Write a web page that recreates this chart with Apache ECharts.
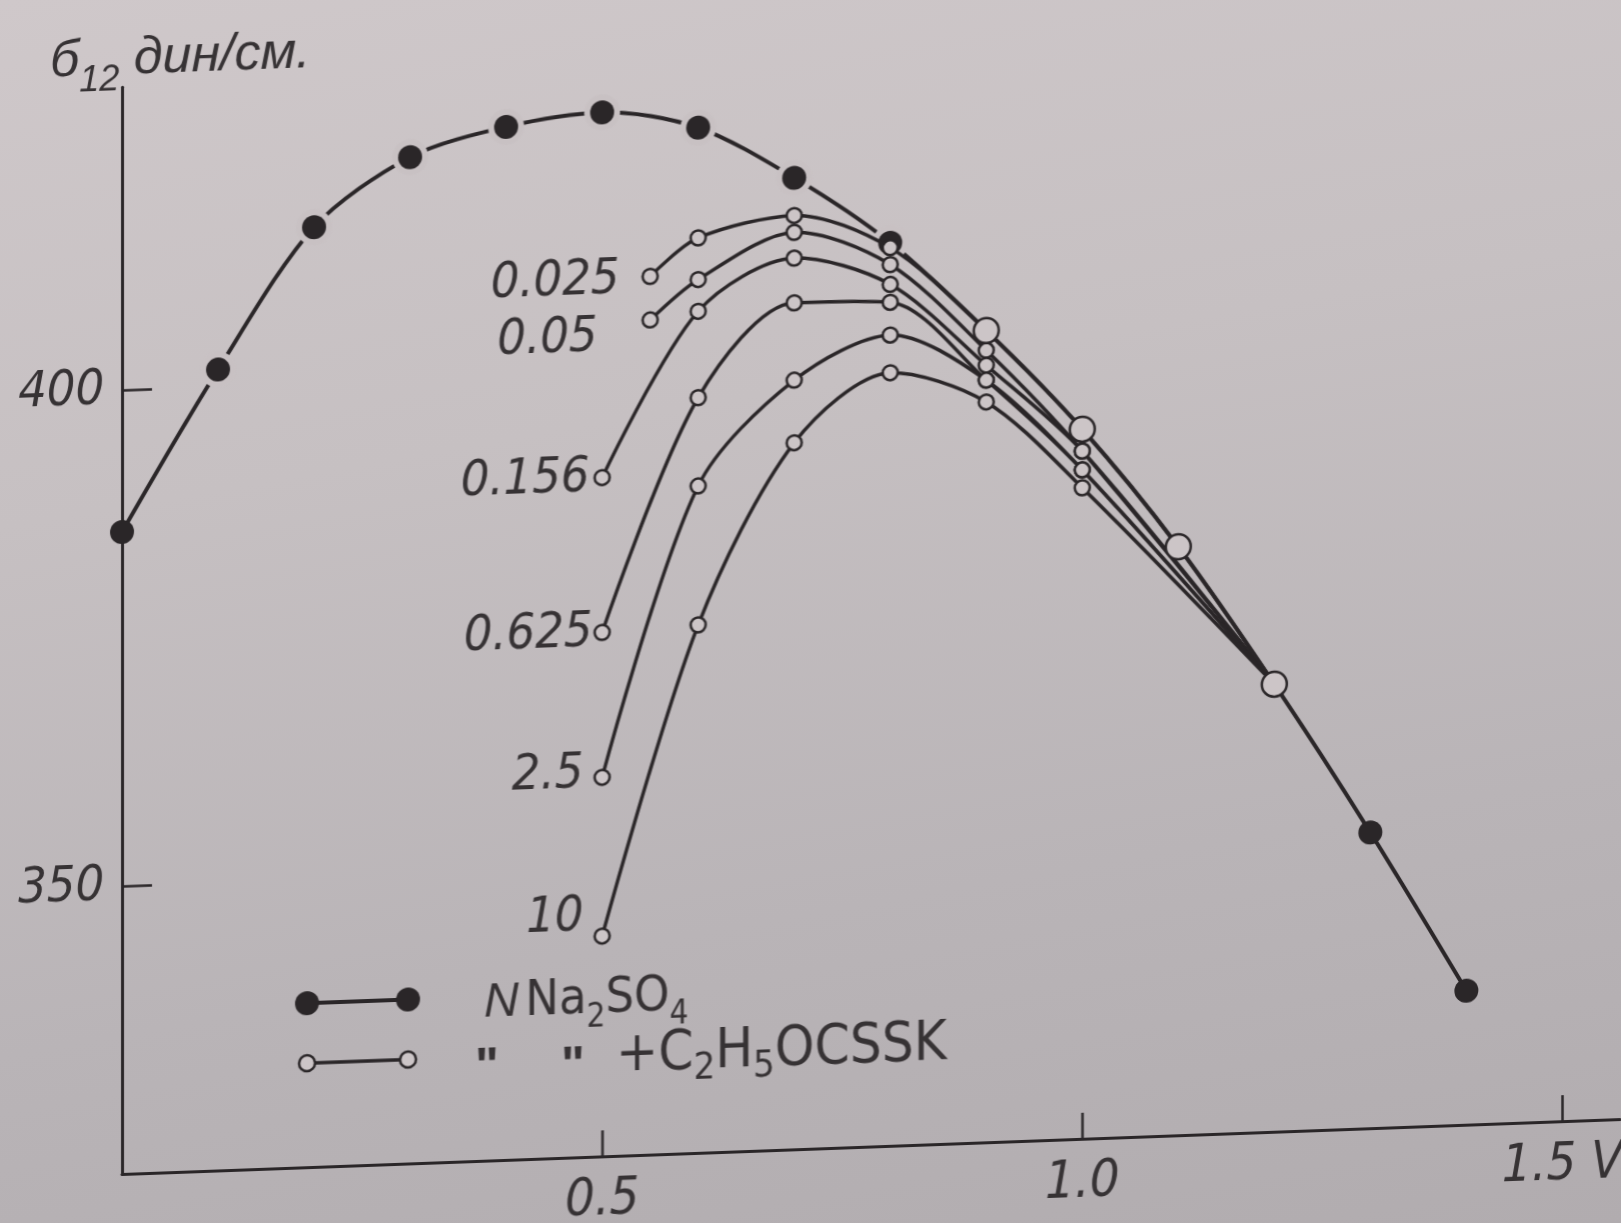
<!DOCTYPE html>
<html>
<head>
<meta charset="utf-8">
<title>Interfacial tension vs potential</title>
<script src="https://cdn.jsdelivr.net/npm/echarts@6/dist/echarts.min.js"></script>
<style>
  html, body {
    margin: 0; padding: 0; width: 1621px; height: 1223px; overflow: hidden;
    background: linear-gradient(170deg, #cfc8ca 0%, #c6c0c2 35%, #b9b4b7 70%, #b1acaf 100%);
  }
  /* the printed figure sits slightly sheared on the page; the canvas is a bit
     larger than the page so that sheared tick labels are not cut off */
  #chart {
    width: 1700px; height: 1300px;
    transform: skewY(-2.1deg); transform-origin: 122px 1174px;
  }
</style>
</head>
<body>
<div id="chart"></div>
<script>
// Potential, V
const voltageNa   = [0, 0.1, 0.2, 0.3, 0.4, 0.5, 0.6, 0.7, 0.8, 0.9, 1.0, 1.1, 1.2, 1.3, 1.4];
// Interfacial tension in N Na2SO4, dyn/cm
const sigmaNa     = [385.7, 401.7, 415.7, 422.4, 425.1, 426.2, 424.3, 418.9, 412.0, 402.8, 392.5, 380.3, 366.1, 350.8, 334.5];

// Same electrolyte + C2H5OCSSK, one curve per concentration
const voltage0025 = [0.55, 0.6, 0.7, 0.8, 0.9, 1.0, 1.1, 1.2];
const sigma0025   = [409.5, 413.2, 415.1, 411.5, 402.8, 392.5, 380.3, 366.1];
const voltage005  = [0.55, 0.6, 0.7, 0.8, 0.9, 1.0, 1.2];
const sigma005    = [405.1, 409.0, 413.4, 409.8, 400.8, 390.3, 366.1];
const voltageHigh = [0.5, 0.6, 0.7, 0.8, 0.9, 1.0, 1.2];
const sigma0156   = [389.4, 405.8, 410.8, 407.8, 399.3, 390.3, 366.1];
const sigma0625   = [373.8, 397.1, 406.3, 406.0, 397.8, 388.4, 366.1];
const sigma25     = [359.2, 388.2, 398.5, 402.7, 397.8, 388.4, 366.1];
const sigma10     = [343.2, 374.2, 392.2, 398.9, 395.6, 386.6, 366.1];

const concLabels  = ['0.025', '0.05', '0.156', '0.625', '2.5', '10'];
const xTicks      = [0.5, 1.0, 1.5];
const yTicks      = [350, 400];

const INK = '#2a2628';
const TEXT = '#363234';
const PAPER = '#ccc5c7';
const HALO = '#c8c1c3';
const NARROW = "'Liberation Sans Narrow','DejaVu Sans Condensed','Liberation Sans',sans-serif";
const SANS = "'Liberation Sans','DejaVu Sans',sans-serif";

const pairs = (xs, ys) => xs.map((x, i) => [x, ys[i]]);
// rising branch of the base curve, off the axis and before the additive curves join it
const rising = v => v[0] > 0 && v[0] < 0.85;

const curves = [
  { x: voltage0025, y: sigma0025, dist: 22, off: [0, 2] },
  { x: voltage005,  y: sigma005,  dist: 44, off: [0, 16] },
  { x: voltageHigh, y: sigma0156, dist: 4,  off: [0, 0] },
  { x: voltageHigh, y: sigma0625, dist: 1,  off: [0, 0] },
  { x: voltageHigh, y: sigma25,   dist: 10, off: [0, -4] },
  { x: voltageHigh, y: sigma10,   dist: 10, off: [0, -20] }
];

const naData = pairs(voltageNa, sigmaNa);

const series = [
  // base electrolyte: the curve itself
  {
    type: 'line', data: naData, smooth: 0.3, showSymbol: false,
    lineStyle: { color: INK, width: 4 }, z: 2
  },
  // clear ring around each point so the pen line stops short of the dot
  {
    type: 'scatter', data: naData, symbol: 'circle',
    symbolSize: v => (rising(v) ? 36 : 0),
    itemStyle: { color: HALO, opacity: 1 }, silent: true, z: 2.2
  },
  // base electrolyte: measured points
  {
    type: 'scatter', data: naData, symbol: 'circle', symbolSize: 24,
    itemStyle: { color: INK, opacity: 1 }, z: 2.4
  }
];

curves.forEach((c, k) => {
  series.push({
    type: 'line',
    data: pairs(c.x, c.y),
    smooth: 0.3,
    symbol: 'circle',
    // where the lowest concentration merges with the base curve the points are drawn large
    symbolSize: k === 0 ? (v => (v[0] >= 0.9 ? 25 : 15)) : 15,
    itemStyle: { color: PAPER, borderColor: INK, borderWidth: 2.5 },
    lineStyle: { color: INK, width: 3.5 },
    label: {
      show: true,
      position: 'left',
      distance: c.dist,
      offset: c.off,
      formatter: p => (p.dataIndex === 0 ? concLabels[k] : ''),
      fontFamily: NARROW,
      fontStyle: 'italic',
      fontSize: 50,
      color: TEXT
    },
    z: k === 0 ? 4 : 3
  });
});

const chart = echarts.init(document.getElementById('chart'), null, { renderer: 'canvas' });

chart.setOption({
  animation: false,
  backgroundColor: 'transparent',
  grid: { left: 122, right: 80, top: 87.3, bottom: 126, outerBoundsMode: 'none', containLabel: false },
  xAxis: {
    type: 'value',
    min: 0,
    max: 1.56,
    axisLine: { show: true, lineStyle: { color: INK, width: 3 } },
    axisTick: { show: true, inside: true, length: 26, customValues: xTicks, lineStyle: { color: INK, width: 2.5 } },
    axisLabel: {
      customValues: xTicks,
      formatter: v => (v === 1.5 ? '1.5 V' : v.toFixed(1)),
      fontFamily: NARROW, fontStyle: 'italic', fontSize: 52, color: TEXT, margin: 18
    },
    splitLine: { show: false }
  },
  yAxis: {
    type: 'value',
    min: 321,
    max: 430.5,
    axisLine: { show: true, lineStyle: { color: INK, width: 3 } },
    axisTick: { show: true, inside: true, length: 30, customValues: yTicks, lineStyle: { color: INK, width: 2.5 } },
    axisLabel: {
      customValues: yTicks,
      fontFamily: NARROW, fontStyle: 'italic', fontSize: 50, color: TEXT, margin: 18
    },
    splitLine: { show: false }
  },
  graphic: [
    // axis title: σ12 dyn/cm
    {
      type: 'text', x: 50, y: 60,
      style: {
        text: '{m|б}{s|12}{m| дин/см.}',
        verticalAlign: 'middle',
        rich: {
          m: { fontFamily: SANS, fontStyle: 'italic', fontSize: 52, lineHeight: 76, verticalAlign: 'middle', fill: TEXT },
          s: { fontFamily: SANS, fontStyle: 'italic', fontSize: 36, lineHeight: 32, verticalAlign: 'bottom', fill: TEXT }
        }
      }
    },
    // key: filled points
    { type: 'line', shape: { x1: 307, y1: 1010, x2: 408, y2: 1010 }, style: { stroke: INK, lineWidth: 4 } },
    { type: 'circle', shape: { cx: 307, cy: 1010, r: 12 }, style: { fill: INK } },
    { type: 'circle', shape: { cx: 408, cy: 1010, r: 12 }, style: { fill: INK } },
    {
      type: 'text', x: 484, y: 1017,
      style: {
        text: '{i|N}  {m|Na}{s|2}{m|SO}{s|4}',
        verticalAlign: 'middle',
        rich: {
          i: { fontFamily: SANS, fontStyle: 'italic', fontSize: 48, lineHeight: 70, verticalAlign: 'middle', fill: TEXT },
          m: { fontFamily: NARROW, fontSize: 50, lineHeight: 70, verticalAlign: 'middle', fill: TEXT },
          s: { fontFamily: NARROW, fontSize: 33, lineHeight: 30, verticalAlign: 'bottom', fill: TEXT }
        }
      }
    },
    // key: open points
    { type: 'line', shape: { x1: 307, y1: 1070, x2: 408, y2: 1070 }, style: { stroke: INK, lineWidth: 3.5 } },
    { type: 'circle', shape: { cx: 307, cy: 1070, r: 8 }, style: { fill: PAPER, stroke: INK, lineWidth: 2.5 } },
    { type: 'circle', shape: { cx: 408, cy: 1070, r: 8 }, style: { fill: PAPER, stroke: INK, lineWidth: 2.5 } },
    { type: 'text', x: 475, y: 1057, style: { text: '"', font: 'bold 50px ' + SANS, fill: TEXT, verticalAlign: 'top' } },
    { type: 'text', x: 561, y: 1059, style: { text: '"', font: 'bold 50px ' + SANS, fill: TEXT, verticalAlign: 'top' } },
    {
      type: 'text', x: 616, y: 1074,
      style: {
        text: '{m|+C}{s|2}{m|H}{s|5}{m|OCSSK}',
        verticalAlign: 'middle',
        rich: {
          m: { fontFamily: NARROW, fontSize: 56, lineHeight: 70, verticalAlign: 'middle', fill: TEXT },
          s: { fontFamily: NARROW, fontSize: 38, lineHeight: 30, verticalAlign: 'bottom', fill: TEXT }
        }
      }
    }
  ],
  series: series
});
</script>
</body>
</html>
